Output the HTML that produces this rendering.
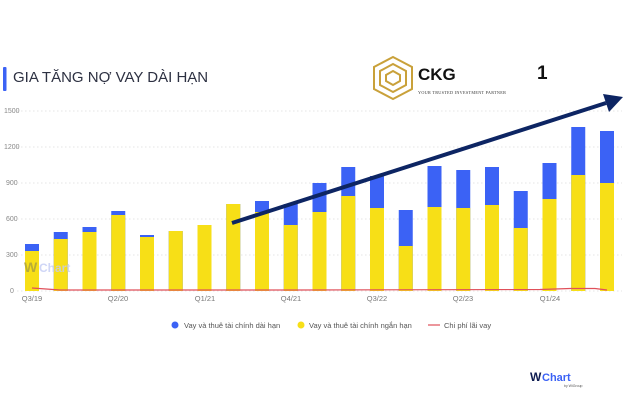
<!DOCTYPE html>
<html><head><meta charset="utf-8"><style>
body{margin:0;width:638px;height:400px;background:#fff;overflow:hidden;font-family:"Liberation Sans","Noto Sans CJK SC",sans-serif}
</style></head><body>
<svg width="638" height="400" viewBox="0 0 638 400" xmlns="http://www.w3.org/2000/svg" font-family="Liberation Sans, Noto Sans CJK SC, sans-serif">
<rect x="3" y="67" width="3.5" height="24" rx="1" fill="#3b62f5"/>
<text x="13" y="82" font-size="15" fill="#2d3142">GIA TĂNG NỢ VAY DÀI HẠN</text>
<g fill="#888" font-size="7">
<text x="4" y="113">1500</text><text x="4" y="149">1200</text><text x="6" y="185">900</text><text x="6" y="221">600</text><text x="6" y="257">300</text><text x="10" y="293">0</text>
</g>
<g stroke="#ddd" stroke-dasharray="1.5,2.5" stroke-width="0.8">
<line x1="17" x2="622" y1="111" y2="111"/><line x1="17" x2="622" y1="147" y2="147"/><line x1="17" x2="622" y1="183" y2="183"/><line x1="17" x2="622" y1="219" y2="219"/><line x1="17" x2="622" y1="255" y2="255"/><line x1="17" x2="622" y1="291" y2="291"/>
</g>
<g fill="#3b62f5">
<rect x="25" y="244" width="14" height="47"/>
<rect x="53.75" y="232" width="14" height="59"/>
<rect x="82.5" y="227" width="14" height="64"/>
<rect x="111.25" y="211" width="14" height="80"/>
<rect x="140" y="235" width="14" height="56"/>
<rect x="168.75" y="231" width="14" height="60"/>
<rect x="197.5" y="225" width="14" height="66"/>
<rect x="226.25" y="204" width="14" height="87"/>
<rect x="255" y="201" width="14" height="90"/>
<rect x="283.75" y="204" width="14" height="87"/>
<rect x="312.5" y="183" width="14" height="108"/>
<rect x="341.25" y="167" width="14" height="124"/>
<rect x="370" y="176" width="14" height="115"/>
<rect x="398.75" y="210" width="14" height="81"/>
<rect x="427.5" y="166" width="14" height="125"/>
<rect x="456.25" y="170" width="14" height="121"/>
<rect x="485" y="167" width="14" height="124"/>
<rect x="513.75" y="191" width="14" height="100"/>
<rect x="542.5" y="163" width="14" height="128"/>
<rect x="571.25" y="127" width="14" height="164"/>
<rect x="600" y="131" width="14" height="160"/>
</g>
<g fill="#f7df17">
<rect x="25" y="251" width="14" height="40"/>
<rect x="53.75" y="239" width="14" height="52"/>
<rect x="82.5" y="232" width="14" height="59"/>
<rect x="111.25" y="215" width="14" height="76"/>
<rect x="140" y="237" width="14" height="54"/>
<rect x="168.75" y="231" width="14" height="60"/>
<rect x="197.5" y="225" width="14" height="66"/>
<rect x="226.25" y="204" width="14" height="87"/>
<rect x="255" y="212" width="14" height="79"/>
<rect x="283.75" y="225" width="14" height="66"/>
<rect x="312.5" y="212" width="14" height="79"/>
<rect x="341.25" y="196" width="14" height="95"/>
<rect x="370" y="208" width="14" height="83"/>
<rect x="398.75" y="246" width="14" height="45"/>
<rect x="427.5" y="207" width="14" height="84"/>
<rect x="456.25" y="208" width="14" height="83"/>
<rect x="485" y="205" width="14" height="86"/>
<rect x="513.75" y="228" width="14" height="63"/>
<rect x="542.5" y="199" width="14" height="92"/>
<rect x="571.25" y="175" width="14" height="116"/>
<rect x="600" y="183" width="14" height="108"/>
</g>
<text x="24" y="272" font-size="14" font-weight="bold" fill="#a9a040" opacity="0.8">W</text><text x="39" y="272" font-size="12" font-weight="bold" fill="#c4ccf5" opacity="0.8">Chart</text>
<path d="M32 288 L60 290 L300 290 L540 289.5 L570 288.5 L595 288.5 L607 290" stroke="#e0505a" stroke-width="1.2" fill="none"/>
<g fill="#777" font-size="7.5" text-anchor="middle">
<text x="32" y="301">Q3/19</text><text x="118" y="301">Q2/20</text><text x="205" y="301">Q1/21</text><text x="291" y="301">Q4/21</text><text x="377" y="301">Q3/22</text><text x="463" y="301">Q2/23</text><text x="550" y="301">Q1/24</text>
</g>
<line x1="232" y1="223" x2="606" y2="103" stroke="#0d2563" stroke-width="4"/>
<polygon points="623,97 603,94 609,112" fill="#0d2563"/>
<g fill="none" stroke="#c9a13a" stroke-width="2">
<polygon points="393,57 412,67 412,89 393,99 374,89 374,67"/>
<polygon points="393,64 406,71 406,85 393,92 380,85 380,71"/>
<polygon points="393,71 400,75 400,81 393,85 386,81 386,75"/>
</g>
<text x="418" y="80" font-size="17" font-weight="bold" fill="#111">CKG</text>
<text x="418" y="94" font-size="4.2" fill="#333" font-family="Liberation Serif, serif" letter-spacing="0.3">YOUR TRUSTED INVESTMENT PARTNER</text>
<text x="537" y="79" font-size="19" font-weight="bold" fill="#111">1</text>
<circle cx="175" cy="325" r="3.5" fill="#3b62f5"/><text x="184" y="328" font-size="7.5" fill="#555">Vay và thuê tài chính dài hạn</text>
<circle cx="301" cy="325" r="3.5" fill="#f7df17"/><text x="309" y="328" font-size="7.5" fill="#555">Vay và thuê tài chính ngắn hạn</text>
<line x1="428" y1="325" x2="440" y2="325" stroke="#e0505a" stroke-width="1.2"/><text x="444" y="328" font-size="7.5" fill="#555">Chi phí lãi vay</text>
<text x="530" y="381" font-size="12" font-weight="bold" fill="#0d1b50">W</text><text x="542" y="381" font-size="11" font-weight="bold" fill="#3b62f5">Chart</text>
<text x="564" y="387" font-size="3.5" fill="#555">by WiGroup</text>
</svg>
</body></html>
